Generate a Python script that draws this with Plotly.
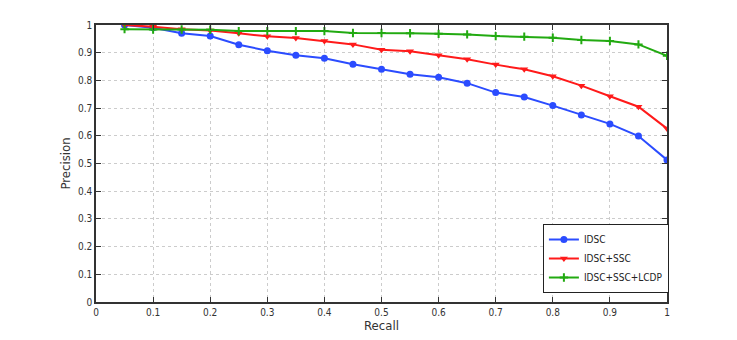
import plotly.graph_objects as go

recall = [0.05, 0.1, 0.15, 0.2, 0.25, 0.3, 0.35, 0.4, 0.45, 0.5,
          0.55, 0.6, 0.65, 0.7, 0.75, 0.8, 0.85, 0.9, 0.95, 1.0]
idsc = [1.0, 0.99, 0.970, 0.960, 0.929, 0.907, 0.891, 0.880, 0.858, 0.840,
        0.822, 0.811, 0.790, 0.756, 0.740, 0.709, 0.675, 0.643, 0.599, 0.513]
idsc_ssc = [1.0, 0.994, 0.985, 0.980, 0.970, 0.959, 0.953, 0.942, 0.930, 0.911,
            0.905, 0.891, 0.876, 0.857, 0.840, 0.815, 0.781, 0.743, 0.705, 0.626]
idsc_ssc_lcdp = [0.985, 0.984, 0.984, 0.983, 0.978, 0.978, 0.978, 0.978, 0.971, 0.971,
                 0.970, 0.968, 0.966, 0.960, 0.958, 0.954, 0.946, 0.942, 0.930, 0.889]
tick_vals = [0, 0.1, 0.2, 0.3, 0.4, 0.5, 0.6, 0.7, 0.8, 0.9, 1]
tick_text = ["0", "0.1", "0.2", "0.3", "0.4", "0.5", "0.6", "0.7", "0.8", "0.9", "1"]

font = "DejaVu Sans Condensed, Liberation Sans Narrow, Liberation Sans, Arial"

fig = go.Figure()
fig.add_trace(go.Scatter(x=recall, y=idsc, name="IDSC", mode="lines+markers",
                         line=dict(color="#2b4cff", width=2),
                         marker=dict(symbol="circle", size=7, color="#2b4cff")))
fig.add_trace(go.Scatter(x=recall, y=idsc_ssc, name="IDSC+SSC", mode="lines+markers",
                         line=dict(color="#ff1a1a", width=2),
                         marker=dict(symbol="triangle-down", size=7, color="#ff1a1a")))
fig.add_trace(go.Scatter(x=recall, y=idsc_ssc_lcdp, name="IDSC+SSC+LCDP", mode="lines+markers",
                         line=dict(color="#22aa11", width=2),
                         marker=dict(symbol="cross-thin", size=6, color="#22aa11",
                                     line=dict(color="#22aa11", width=2))))

axis_common = dict(range=[0, 1], tickvals=tick_vals, ticktext=tick_text,
                   showgrid=True, gridcolor="#cccccc", griddash="dot", gridwidth=1,
                   showline=True, linecolor="#333", linewidth=1.5, mirror="ticks",
                   ticks="inside", ticklen=5, tickcolor="#333", zeroline=False,
                   tickfont=dict(family=font, size=10, color="#333"))

fig.update_layout(
    width=737, height=340,
    margin=dict(l=88, r=78, t=17, b=46),
    plot_bgcolor="white", paper_bgcolor="white",
    xaxis=dict(title=dict(text="Recall", font=dict(family=font, size=13, color="#333"), standoff=2),
               **axis_common),
    yaxis=dict(title=dict(text="Precision", font=dict(family=font, size=13, color="#333"), standoff=4),
               **axis_common),
    legend=dict(x=0.893, y=0.157, xanchor="center", yanchor="middle",
                bgcolor="white", bordercolor="#222", borderwidth=1,
                font=dict(family=font, size=10, color="#222"),
                tracegroupgap=0, itemwidth=30),
    showlegend=True,
)

fig.write_html("out.html")
